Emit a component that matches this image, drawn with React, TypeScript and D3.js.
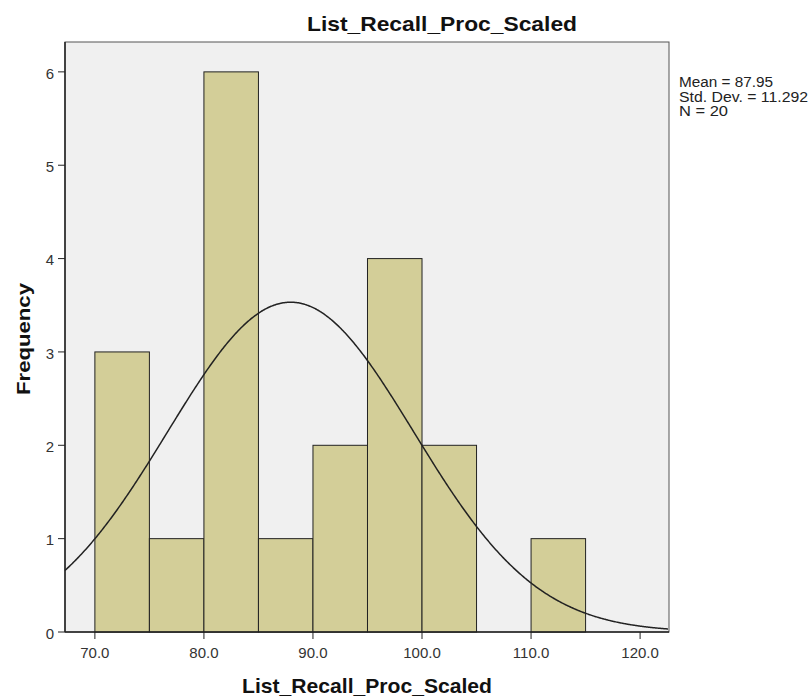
import React from "react";
import * as d3 from "d3";

const binStarts = [70, 75, 80, 85, 90, 95, 100, 105, 110];
const binWidth = 5;
const counts = [3, 1, 6, 1, 2, 4, 2, 0, 1];
const xTicks = [70, 80, 90, 100, 110, 120];
const yTicks = [0, 1, 2, 3, 4, 5, 6];
const mean = 87.95;
const sd = 11.292;
const n = 20;
const statLines = ["Mean = 87.95", "Std. Dev. = 11.292", "N = 20"];
const statWidths = [94, 129, 49];

export default function App() {
  const W = 811, H = 700;
  const left = 65, right = 669, top = 42, bottom = 632;
  const x = d3.scaleLinear().domain([67.26, 122.65]).range([left, right]);
  const y = d3.scaleLinear().domain([0, 6.32]).range([bottom, top]);
  const pdf = (v: number) =>
    (n * binWidth) / (sd * Math.sqrt(2 * Math.PI)) * Math.exp(-((v - mean) ** 2) / (2 * sd * sd));
  const pts = d3.range(67.26, 122.66, 0.1).map((v) => [v, pdf(v)] as [number, number]);
  const line = d3.line<[number, number]>().x((d) => x(d[0])).y((d) => y(d[1])).curve(d3.curveBasis);
  const font = "Arial, 'Liberation Sans', sans-serif";
  return (
    <svg width={W} height={H} style={{ position: "absolute", left: 0, top: 0 }} fontFamily={font}>
      <rect x={0} y={0} width={W} height={H} fill="#fff" />
      <rect x={left} y={top} width={right - left} height={bottom - top} fill="#f0f0f0" stroke="#555" strokeWidth={1} />
      {binStarts.map((b, i) =>
        counts[i] > 0 ? (
          <rect key={i} x={x(b)} y={y(counts[i])} width={x(b + binWidth) - x(b)} height={y(0) - y(counts[i])}
            fill="#d3ce98" stroke="#222" strokeWidth={1} />
        ) : null
      )}
      <path d={line(pts) || ""} fill="none" stroke="#222" strokeWidth={1.5} />
      <line x1={left} x2={left} y1={top} y2={bottom} stroke="#222" strokeWidth={1.5} />
      <line x1={left} x2={right} y1={bottom} y2={bottom} stroke="#222" strokeWidth={1.5} />
      {yTicks.map((t) => (
        <g key={t}>
          <line x1={left - 7} x2={left} y1={y(t)} y2={y(t)} stroke="#222" strokeWidth={1} />
          <text x={54} y={y(t)} dy="0.45em" textAnchor="end" fontSize={15} fill="#333">{t}</text>
        </g>
      ))}
      {xTicks.map((t) => (
        <g key={t}>
          <line x1={x(t)} x2={x(t)} y1={bottom} y2={bottom + 7} stroke="#222" strokeWidth={1} />
          <text x={x(t)} y={658} textAnchor="middle" fontSize={15} fill="#333">{t.toFixed(1)}</text>
        </g>
      ))}
      <text x={442} y={31} textAnchor="middle" fontSize={21} fontWeight="bold" fill="#111"
        textLength={270} lengthAdjust="spacingAndGlyphs">List_Recall_Proc_Scaled</text>
      <text x={367} y={693} textAnchor="middle" fontSize={21} fontWeight="bold" fill="#111"
        textLength={250} lengthAdjust="spacingAndGlyphs">List_Recall_Proc_Scaled</text>
      <text transform={`translate(30,339) rotate(-90)`} textAnchor="middle" fontSize={19} fontWeight="bold" fill="#111"
        textLength={112} lengthAdjust="spacingAndGlyphs">Frequency</text>
      {statLines.map((s, i) => (
        <text key={i} x={679} y={87 + i * 14.5} fontSize={14} fill="#222"
          textLength={statWidths[i]} lengthAdjust="spacingAndGlyphs">{s}</text>
      ))}
    </svg>
  );
}
